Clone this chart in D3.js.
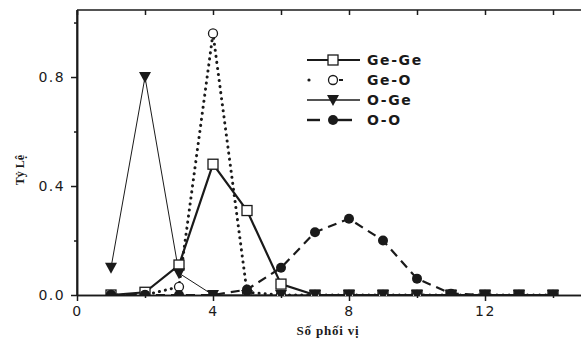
<!DOCTYPE html>
<html><head><meta charset="utf-8">
<script src="https://cdn.jsdelivr.net/npm/d3@7"></script>
<style>body{margin:0;background:#fff;overflow:hidden}svg{display:block}</style>
</head><body>
<script>
const xs = [1,2,3,4,5,6,7,8,9,10,11,12,13,14];
const geGe = [0,0.01,0.11,0.48,0.31,0.04,0,0,0,0,0,0,0,0];
const geO  = [0,0,0.03,0.96,0.01,0,0,0,0,0,0,0,0,0];
const oGe  = [0.10,0.80,0.08,0,0,0,0,0,0,0,0,0,0,0];
const oO   = [0,0,0,0,0.02,0.10,0.23,0.28,0.20,0.06,0.005,0,0,0];
const seriesNames = ["Ge-Ge","Ge-O","O-Ge","O-O"];
const xTicks = [0,4,8,12];
const xMinor = [2,6,10,14];
const yTicks = [0,0.4,0.8];
const yMinor = [0.2,0.6,1.0];

const W=581,H=341;
const svg=d3.select("body").append("svg").attr("width",W).attr("height",H);
const x=d3.scaleLinear().domain([0,15]).range([77,587]);
const y=d3.scaleLinear().domain([0,1.046]).range([295,10]);
const ink="#1a1a1a";
const tickFont="DejaVu Sans, Liberation Sans, sans-serif";

svg.append("clipPath").attr("id","plot").append("rect")
  .attr("x",x(0)).attr("y",y(1.046)).attr("width",x(15)-x(0)).attr("height",y(0)-y(1.046)+1);

// frame
svg.append("line").attr("x1",x(0)).attr("x2",x(15)).attr("y1",y(1.046)).attr("y2",y(1.046)).attr("stroke",ink).attr("stroke-width",1.5);
svg.append("line").attr("x1",x(0)).attr("x2",x(0)).attr("y1",y(0)).attr("y2",y(1.046)).attr("stroke",ink).attr("stroke-width",1.5);
svg.append("line").attr("x1",x(15)).attr("x2",x(15)).attr("y1",y(0)).attr("y2",y(1.046)).attr("stroke",ink).attr("stroke-width",1.5);

const xAxis=svg.append("g").attr("transform",`translate(0,${y(0)})`)
 .call(d3.axisBottom(x).tickValues(xTicks).tickFormat(d3.format("d")).tickSize(6).tickSizeOuter(0));
const xAxisMin=svg.append("g").attr("transform",`translate(0,${y(0)})`)
 .call(d3.axisBottom(x).tickValues(xMinor).tickFormat("").tickSize(3).tickSizeOuter(0));
const xTop=svg.append("g").attr("transform",`translate(0,${y(1.046)})`)
 .call(d3.axisBottom(x).tickValues(xTicks.concat(xMinor)).tickFormat("").tickSize(5).tickSizeOuter(0));
xTop.select(".domain").remove();
const yAxis=svg.append("g").attr("transform",`translate(${x(0)},0)`)
 .call(d3.axisLeft(y).tickValues(yTicks).tickFormat(d3.format(".1f")).tickSize(6).tickSizeOuter(0));
const yAxisMin=svg.append("g").attr("transform",`translate(${x(0)},0)`)
 .call(d3.axisLeft(y).tickValues(yMinor).tickFormat("").tickSize(3).tickSizeOuter(0));
[xAxis,xAxisMin,xTop,yAxis,yAxisMin].forEach(g=>{
  g.selectAll("path,line").attr("stroke",ink).attr("stroke-width",1.5);
  g.selectAll("text").attr("fill",ink).attr("font-family",tickFont).attr("font-size",14).attr("letter-spacing",1.5);
});
xAxis.selectAll("text").attr("dy","0.85em");
yAxis.selectAll("text").attr("dx","-0.2em");

// axis labels
svg.append("text").attr("x",328).attr("y",335).attr("text-anchor","middle")
 .attr("font-family","Liberation Serif, Times New Roman, serif").attr("font-weight","bold").attr("font-size",13).attr("letter-spacing",0.8).attr("fill",ink).text("Số phối vị");
svg.append("text").attr("transform","translate(24,170) rotate(-90)").attr("text-anchor","middle")
 .attr("font-family","Liberation Serif, Times New Roman, serif").attr("font-weight","bold").attr("font-size",12).attr("fill",ink).text("Tỷ Lệ");

const line=d3.line().x(d=>x(d[0])).y(d=>y(d[1]));
const styles=[
 {vals:geGe,dash:null,w:2.2,m:"square",cap:"butt"},
 {vals:geO,dash:"0.1,6",w:3,m:"ocircle",cap:"round"},
 {vals:oGe,dash:null,w:1,m:"tri",cap:"butt"},
 {vals:oO,dash:"9,6",w:2.2,m:"fcircle",cap:"butt"}
];
function marker(g,type,cx,cy){
  if(type==="square") g.append("rect").attr("x",cx-5).attr("y",cy-5).attr("width",10).attr("height",10).attr("fill","#fff").attr("stroke",ink).attr("stroke-width",1.3);
  else if(type==="ocircle") g.append("circle").attr("cx",cx).attr("cy",cy).attr("r",4.5).attr("fill","#fff").attr("stroke",ink).attr("stroke-width",1.3);
  else if(type==="fcircle") g.append("circle").attr("cx",cx).attr("cy",cy).attr("r",5).attr("fill",ink);
  else g.append("path").attr("d",`M${cx-6},${cy-5}L${cx+6},${cy-5}L${cx},${cy+6}Z`).attr("fill",ink);
}
const plot=svg.append("g").attr("clip-path","url(#plot)");
[3,2,1,0].forEach(i=>{
  const s=styles[i];
  const pts=xs.map((v,j)=>[v,s.vals[j]]);
  plot.append("path").attr("d",line(pts)).attr("fill","none").attr("stroke",ink).attr("stroke-width",s.w)
   .attr("stroke-dasharray",s.dash).attr("stroke-linecap",s.cap);
});
[0,1,3,2].forEach(i=>{
  const s=styles[i];
  const g=plot.append("g");
  xs.forEach((v,j)=>marker(g,s.m,x(v),y(s.vals[j])));
});

// legend
const lg=svg.append("g");
seriesNames.forEach((n,i)=>{
  const s=styles[i], yy=60+i*20;
  if(i===1){
    lg.append("circle").attr("cx",309).attr("cy",yy).attr("r",1.6).attr("fill",ink);
    lg.append("line").attr("x1",339).attr("x2",343).attr("y1",yy).attr("y2",yy).attr("stroke",ink).attr("stroke-width",2);
  } else if(i===3){
    lg.append("line").attr("x1",307).attr("x2",320).attr("y1",yy).attr("y2",yy).attr("stroke",ink).attr("stroke-width",2.4);
    lg.append("line").attr("x1",334).attr("x2",352).attr("y1",yy).attr("y2",yy).attr("stroke",ink).attr("stroke-width",2.4);
  } else {
    lg.append("line").attr("x1",307).attr("x2",360).attr("y1",yy).attr("y2",yy).attr("stroke",ink)
     .attr("stroke-width",i===2?1.5:2.2);
  }
  marker(lg,s.m,333,yy);
  lg.append("text").attr("x",367).attr("y",yy+5).attr("font-family",tickFont).attr("font-weight","bold")
   .attr("font-size",14).attr("letter-spacing",1.6).attr("fill",ink).text(n);
});
</script>
</body></html>
